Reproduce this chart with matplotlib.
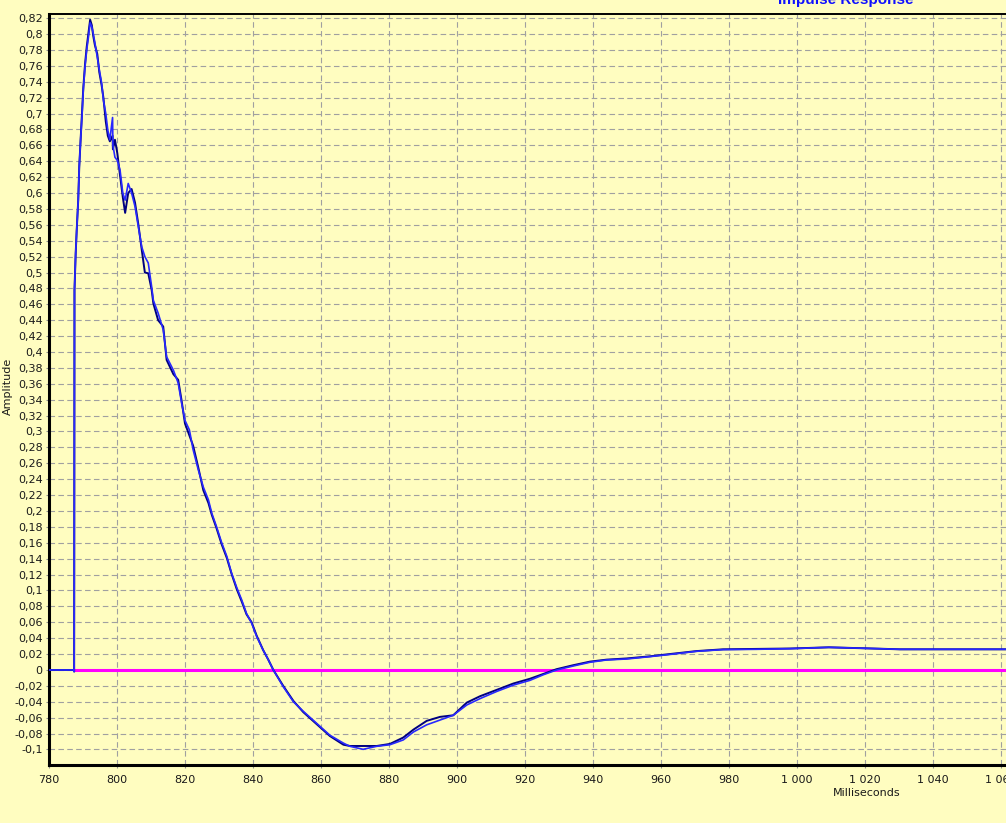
import numpy as np
import matplotlib
matplotlib.use("Agg")
import matplotlib.pyplot as plt
from matplotlib.ticker import FuncFormatter, MultipleLocator

# traced impulse response (ms, amplitude)
t_ms = [780.0, 787.3, 787.4, 787.5, 787.85, 788.15, 788.6, 788.9, 789.3, 789.7,
        790.1, 790.6, 791.1, 791.6, 792.1, 792.6, 793.0, 793.5, 794.2, 794.8,
        795.5, 796.0, 796.7, 797.3, 797.9, 798.7, 798.8, 799.4, 800.1, 800.9,
        801.7, 802.4, 803.3, 804.3, 805.3, 806.3, 807.3, 808.2, 809.2, 810.2,
        810.7, 812.1, 813.6, 814.6, 816.6, 818.0, 819.0, 820.0, 821.3, 822.4,
        823.9, 825.4, 826.9, 827.9, 829.3, 830.8, 832.3, 833.7, 835.2, 836.7,
        838.1, 839.6, 841.1, 843.0, 844.5, 846.0, 848.9, 851.9, 854.8, 858.7,
        862.6, 866.6, 868.5, 872.4, 876.4, 880.3, 884.2, 887.2, 891.1, 895.0,
        898.9, 902.9, 906.8, 911.7, 916.6, 921.5, 925.4, 929.3, 934.2, 939.1,
        944.0, 949.9, 956.8, 963.6, 970.5, 978.3, 988.1, 998.0, 1009.4, 1020.6,
        1030.3, 1061.5]

amp_blue = [0.0, 0.0, -0.002, 0.478, 0.524, 0.553, 0.591, 0.633, 0.667, 0.696,
            0.730, 0.759, 0.780, 0.796, 0.814, 0.809, 0.801, 0.789, 0.771, 0.755,
            0.738, 0.717, 0.700, 0.679, 0.667, 0.695, 0.660, 0.645, 0.641, 0.629,
            0.600, 0.591, 0.612, 0.600, 0.583, 0.557, 0.532, 0.520, 0.512, 0.482,
            0.465, 0.449, 0.428, 0.394, 0.377, 0.361, 0.336, 0.314, 0.302, 0.277,
            0.252, 0.230, 0.214, 0.197, 0.180, 0.160, 0.143, 0.122, 0.104, 0.088,
            0.071, 0.059, 0.042, 0.025, 0.013, 0.0, -0.021, -0.040, -0.052, -0.067,
            -0.082, -0.092, -0.096, -0.0998, -0.096, -0.094, -0.088, -0.078, -0.069, -0.063,
            -0.057, -0.044, -0.036, -0.027, -0.019, -0.013, -0.006, 0.0, 0.005, 0.0097,
            0.0126, 0.0138, 0.0168, 0.020, 0.0235, 0.0256, 0.026, 0.0268, 0.0285, 0.0272,
            0.026, 0.026]

amp_navy = [0.0, 0.0, -0.002, 0.478, 0.524, 0.553, 0.591, 0.633, 0.667, 0.700,
            0.733, 0.762, 0.784, 0.801, 0.818, 0.811, 0.798, 0.786, 0.775, 0.752,
            0.735, 0.720, 0.690, 0.672, 0.665, 0.672, 0.655, 0.667, 0.650, 0.622,
            0.595, 0.575, 0.600, 0.605, 0.588, 0.560, 0.528, 0.500, 0.499, 0.478,
            0.461, 0.440, 0.432, 0.390, 0.372, 0.365, 0.339, 0.310, 0.295, 0.282,
            0.255, 0.226, 0.210, 0.195, 0.178, 0.158, 0.141, 0.121, 0.102, 0.086,
            0.070, 0.060, 0.043, 0.025, 0.013, 0.0, -0.020, -0.039, -0.053, -0.068,
            -0.083, -0.094, -0.0956, -0.0956, -0.0956, -0.093, -0.085, -0.075, -0.064, -0.059,
            -0.057, -0.041, -0.033, -0.025, -0.017, -0.011, -0.005, 0.001, 0.006, 0.0105,
            0.013, 0.0145, 0.0172, 0.0205, 0.0238, 0.026, 0.0265, 0.027, 0.0285, 0.0272,
            0.026, 0.026]

bg = "#FFFDC0"

fig = plt.figure(figsize=(10.06, 8.23), dpi=100)
fig.patch.set_facecolor(bg)
ax = fig.add_axes([0.0487, 0.0705, 0.9513, 0.9125])
ax.set_facecolor(bg)

ax.hlines(0, 787.4, 1061.5, color="#FF00FF", lw=2.2, zorder=2)
ax.plot(t_ms, amp_navy, color="#000080", lw=1.4, zorder=3)
ax.plot(t_ms, amp_blue, color="#2828FF", lw=1.2, zorder=4)

ax.set_xlim(780, 1061.5)
ax.set_ylim(-0.1195, 0.8252)
ax.xaxis.set_major_locator(MultipleLocator(20))
ax.set_yticks(np.round(np.arange(-0.10, 0.821, 0.02), 2))

ax.xaxis.set_major_formatter(FuncFormatter(lambda v, p: f"{int(round(v)):,}".replace(",", " ")))


def yfmt(v, p):
    s = f"{v:.2f}".rstrip("0").rstrip(".")
    if s in ("-0", "0"):
        return "0"
    return s.replace(".", ",")


ax.yaxis.set_major_formatter(FuncFormatter(yfmt))

ax.grid(True, color="#A0A0A0", linestyle=(0, (5, 3)), lw=0.8)
ax.set_axisbelow(True)
ax.tick_params(axis="both", length=2.5, width=0.8, color="#909090",
               labelsize=8, labelcolor="#1a1a1a", pad=2)
ax.tick_params(axis="x", pad=5)

for side in ("left", "bottom"):
    ax.spines[side].set_linewidth(2.2)
    ax.spines[side].set_color("black")
ax.spines["top"].set_linewidth(1.4)
ax.spines["right"].set_visible(False)

fig.text(867 / 1006, 1 - 793 / 823, "Milliseconds", fontsize=8,
         ha="center", va="center", color="#1a1a1a")
fig.text(8 / 1006, 1 - 386 / 823, "Amplitude", fontsize=8, rotation=90,
         ha="center", va="center", color="#1a1a1a")
# title sits partly above the top edge, as in the original screenshot
fig.text(846 / 1006, 1 - 4 / 823, "Impulse Response", fontsize=11,
         fontweight="bold", family="Liberation Sans", color="#1010FF",
         ha="center", va="baseline")

fig.savefig("out.png", dpi=100, facecolor=bg)
